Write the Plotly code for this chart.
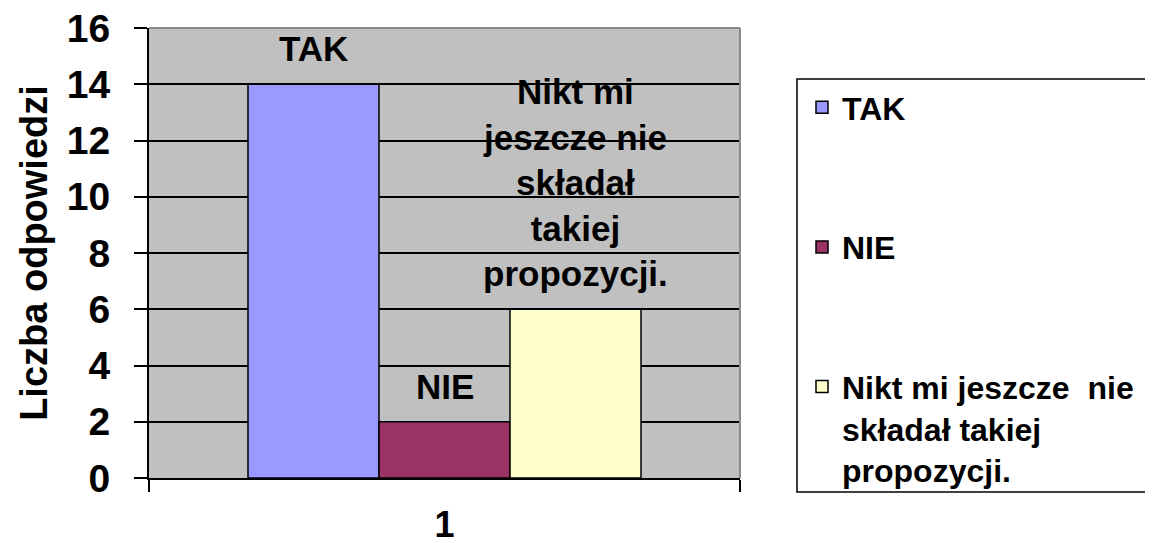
import plotly.graph_objects as go

# ---- data ----
categories = ["1"]
series_names = ["TAK", "NIE", "Nikt mi jeszcze nie składał takiej propozycji."]
values_tak = [14]
values_nie = [2]
values_nikt = [6]
bar_labels = ["TAK", "NIE", "Nikt mi<br>jeszcze nie<br>składał<br>takiej<br>propozycji."]
legend_labels = ["TAK", "NIE", "Nikt mi jeszcze  nie<br>składał takiej<br>propozycji."]
colors = ["#9999FF", "#993366", "#FFFFCC"]
y_tick_values = [0, 2, 4, 6, 8, 10, 12, 14, 16]
y_title = "Liczba odpowiedzi"

FONT = "Liberation Sans"
W, H = 1153, 543
OFF = 8  # default page body margin
# plot-area edges in screen pixels
L, R, T, B = 149, 740, 28, 478
BARGAP = 0.335

fig = go.Figure()
all_values = [values_tak, values_nie, values_nikt]
n = len(all_values)
annotations = []
for i, vals in enumerate(all_values):
    fig.add_trace(go.Bar(
        x=categories,
        y=vals,
        name=legend_labels[i],
        legendgroup=f"g{i}",
        marker=dict(color=colors[i], line=dict(color="black", width=1.5)),
        hoverinfo="skip",
    ))
    slot = (1 - BARGAP) / n
    for ci, v in enumerate(vals):
        annotations.append(dict(
            x=ci + (i - (n - 1) / 2) * slot, y=v, xref="x", yref="y",
            text=bar_labels[i], showarrow=False,
            xanchor="center", yanchor="bottom", yshift=14,
            align="center",
            font=dict(family=FONT, size=35, color="black", weight="bold"),
        ))

def px_x(px):
    return (px - L) / (R - L)

def px_y(py):
    return (B - py) / (B - T)

fig.update_layout(
    width=W, height=H,
    margin=dict(l=L - OFF, r=W - (R - OFF), t=T - OFF, b=H - (B - OFF), pad=0, autoexpand=False),
    paper_bgcolor="white",
    plot_bgcolor="#C0C0C0",
    barmode="group",
    bargap=BARGAP,
    bargroupgap=0,
    font=dict(family=FONT, color="black", weight="bold"),
    showlegend=True,
    legend=dict(
        xref="container", yref="container",
        x=(802 - OFF) / W, y=1 - (80 - OFF) / H, xanchor="left", yanchor="top",
        font=dict(family=FONT, size=32, color="black", weight="bold"),
        bgcolor="rgba(0,0,0,0)",
        borderwidth=0,
        tracegroupgap=95,
        valign="top",
        traceorder="grouped",
        maxheight=520,
    ),
    xaxis=dict(
        type="category",
        automargin=False,
        showgrid=False,
        showline=True, linecolor="black", linewidth=2,
        ticks="outside", ticklen=12, tickwidth=2, tickcolor="black",
        tickson="boundaries",
        tickfont=dict(family=FONT, size=36, color="black", weight="bold"),
        ticklabelstandoff=14,
        ticklabeloverflow="allow",
        zeroline=False,
    ),
    yaxis=dict(
        range=[0, 16],
        automargin=False,
        tickvals=y_tick_values,
        showgrid=True, gridcolor="black", gridwidth=2,
        showline=True, linecolor="black", linewidth=2,
        ticks="outside", ticklen=13, tickwidth=2, tickcolor="black",
        tickfont=dict(family=FONT, size=39, color="black", weight="bold"),
        ticklabelstandoff=16,
        ticklabeloverflow="allow",
        zeroline=False,
        title=dict(text=y_title, font=dict(family=FONT, size=38, color="black", weight="bold"), standoff=8),
    ),
    annotations=annotations,
    shapes=[
        # grey frame on top and right of the plot area
        dict(type="line", xref="paper", yref="paper", x0=0, x1=1, y0=1, y1=1,
             line=dict(color="#8a8a8a", width=2), layer="above"),
        dict(type="line", xref="paper", yref="paper", x0=1, x1=1, y0=0, y1=1,
             line=dict(color="#8a8a8a", width=2), layer="above"),
        # legend frame
        dict(type="rect", xref="paper", yref="paper",
             x0=px_x(797), x1=px_x(1150), y0=px_y(492), y1=px_y(79),
             line=dict(color="black", width=1.5), fillcolor="rgba(0,0,0,0)"),
    ],
)

fig.write_html("out.html")
